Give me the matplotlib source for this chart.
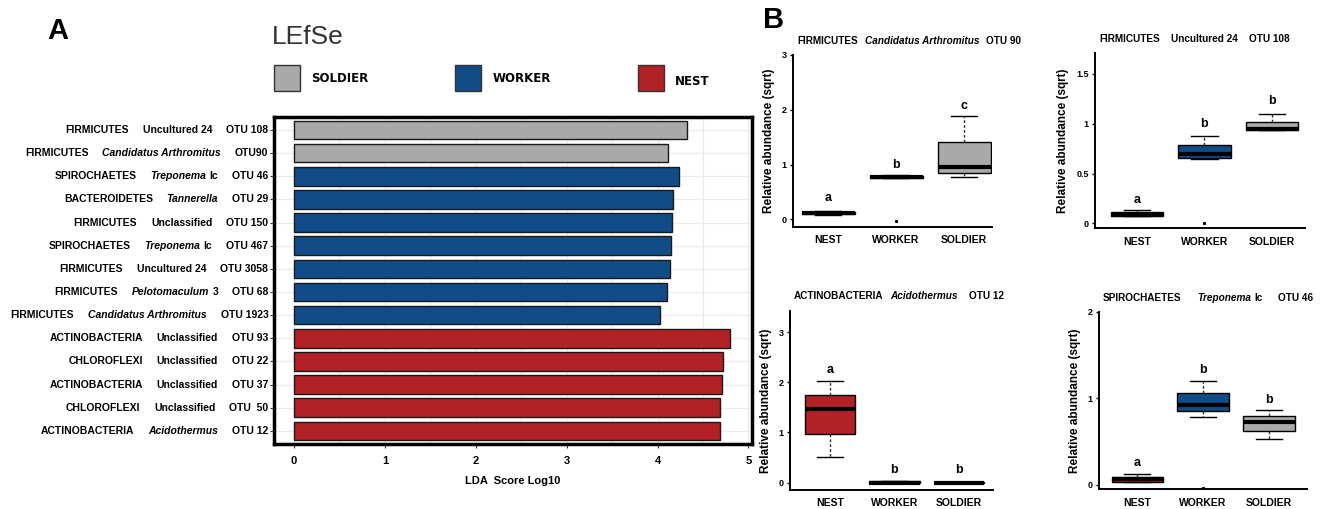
import matplotlib
matplotlib.use("Agg")
import matplotlib.pyplot as plt
from matplotlib.patches import Rectangle
import numpy as np

plt.rcParams['font.family'] = ['Liberation Sans', 'DejaVu Sans']

# ---- panel A data (top row first) ----
phylum = ["FIRMICUTES", "FIRMICUTES", "SPIROCHAETES", "BACTEROIDETES", "FIRMICUTES",
          "SPIROCHAETES", "FIRMICUTES", "FIRMICUTES", "FIRMICUTES", "ACTINOBACTERIA",
          "CHLOROFLEXI", "ACTINOBACTERIA", "CHLOROFLEXI", "ACTINOBACTERIA"]
genus_it = ["", "Candidatus Arthromitus", "Treponema", "Tannerella", "",
            "Treponema", "", "Pelotomaculum", "Candidatus Arthromitus", "",
            "", "", "", "Acidothermus"]
genus_plain = ["Uncultured 24", "", "Ic", "", "Unclassified",
               "Ic", "Uncultured 24", "3", "", "Unclassified",
               "Unclassified", "Unclassified", "Unclassified", ""]
otu = ["OTU 108", "OTU90", "OTU 46", "OTU 29", "OTU 150", "OTU 467", "OTU 3058",
       "OTU 68", "OTU 1923", "OTU 93", "OTU 22", "OTU 37", "OTU  50", "OTU 12"]
lda = [4.32, 4.12, 4.24, 4.17, 4.16, 4.15, 4.14, 4.11, 4.03, 4.80, 4.72, 4.71, 4.69, 4.69]
group = ["SOLDIER", "SOLDIER", "WORKER", "WORKER", "WORKER", "WORKER", "WORKER",
         "WORKER", "WORKER", "NEST", "NEST", "NEST", "NEST", "NEST"]

colors = {"SOLDIER": "#A9A9A9", "WORKER": "#114C88", "NEST": "#B22125"}
legend_order = ["SOLDIER", "WORKER", "NEST"]

# ---- panel B data: box stats per group (NEST, WORKER, SOLDIER) ----
groups_b = ["NEST", "WORKER", "SOLDIER"]
otu90 = [dict(whislo=0.08, q1=0.09, med=0.11, q3=0.13, whishi=0.16, fliers=[]),
         dict(whislo=0.75, q1=0.76, med=0.78, q3=0.80, whishi=0.81, fliers=[-0.03]),
         dict(whislo=0.77, q1=0.85, med=0.96, q3=1.42, whishi=1.89, fliers=[])]
otu90_letters = ["a", "b", "c"]
otu90_letter_y = [0.39, 0.99, 2.07]

otu108 = [dict(whislo=0.07, q1=0.07, med=0.08, q3=0.11, whishi=0.13, fliers=[]),
          dict(whislo=0.65, q1=0.66, med=0.70, q3=0.79, whishi=0.88, fliers=[0.0]),
          dict(whislo=0.94, q1=0.94, med=0.95, q3=1.02, whishi=1.10, fliers=[])]
otu108_letters = ["a", "b", "b"]
otu108_letter_y = [0.23, 1.00, 1.23]

otu12 = [dict(whislo=0.51, q1=0.97, med=1.46, q3=1.74, whishi=2.03, fliers=[]),
         dict(whislo=0.0, q1=0.0, med=0.0, q3=0.02, whishi=0.03, fliers=[]),
         dict(whislo=0.0, q1=0.0, med=0.0, q3=0.01, whishi=0.01, fliers=[])]
otu12_letters = ["a", "b", "b"]
otu12_letter_y = [2.25, 0.25, 0.25]

otu46 = [dict(whislo=0.03, q1=0.03, med=0.07, q3=0.09, whishi=0.13, fliers=[]),
         dict(whislo=0.78, q1=0.85, med=0.92, q3=1.06, whishi=1.20, fliers=[-0.04]),
         dict(whislo=0.53, q1=0.62, med=0.73, q3=0.80, whishi=0.87, fliers=[])]
otu46_letters = ["a", "b", "b"]
otu46_letter_y = [0.25, 1.33, 0.98]


def chain(ax, pieces, xy, xycoords, align, size):
    # pieces: (text, italic, gap in points before the piece), read left to right
    pieces = [p for p in pieces if p[0]]
    if align == "right":
        order = list(range(len(pieces)))[::-1]
    else:
        order = list(range(len(pieces)))
    prev = None
    for j in order:
        txt, it, _ = pieces[j]
        style = "italic" if it else "normal"
        if prev is None:
            prev = ax.annotate(txt, xy=xy, xycoords=xycoords, ha=align, va="center",
                               fontsize=size, fontweight="bold", style=style,
                               annotation_clip=False)
        elif align == "right":
            gap = pieces[j + 1][2]
            prev = ax.annotate(txt, xy=(0, 0.5), xycoords=prev, xytext=(-gap, 0),
                               textcoords="offset points", ha="right", va="center",
                               fontsize=size, fontweight="bold", style=style)
        else:
            gap = pieces[j][2]
            prev = ax.annotate(txt, xy=(1, 0.5), xycoords=prev, xytext=(gap, 0),
                               textcoords="offset points", ha="left", va="center",
                               fontsize=size, fontweight="bold", style=style)


fig = plt.figure(figsize=(13.2, 5.09), dpi=100)

# ---------------- panel A ----------------
axA = fig.add_axes([0.2076, 0.128, 0.3621, 0.642])
ypos = np.arange(len(lda))[::-1]
axA.barh(ypos, lda, height=0.8, color=[colors[g] for g in group],
         edgecolor="#1a1a1a", linewidth=1.0, zorder=3)
axA.set_xlim(-0.22, 5.04)
axA.set_ylim(-0.56, len(lda) - 0.44)
axA.set_xticks(np.arange(0, 6))
axA.set_xticks(np.arange(0.5, 5, 1), minor=True)
axA.set_yticks(ypos)
axA.set_yticklabels([])
axA.grid(True, which="both", axis="x", color="#EBEBEB", lw=0.9, zorder=0)
axA.grid(True, which="major", axis="y", color="#EBEBEB", lw=0.9, zorder=0)
axA.tick_params(axis="both", which="major", length=3, width=0.8, color="#333333")
axA.tick_params(axis="x", which="minor", length=0)
axA.tick_params(axis="x", labelsize=8, pad=6)
for lab in axA.get_xticklabels():
    lab.set_fontweight("bold")
for s in axA.spines.values():
    s.set_linewidth(2.5)
axA.set_xlabel("LDA  Score Log10", fontsize=8, fontweight="bold", labelpad=7)

for i, y in enumerate(ypos):
    pieces = [(phylum[i], False, 0), (genus_it[i], True, 10),
              (genus_plain[i], False, 2.5 if genus_it[i] else 10), (otu[i], False, 10)]
    chain(axA, pieces, (-0.012, y), ("axes fraction", "data"), "right", 7.5)

# title and legend
fig.text(0.206, 0.927, "LEfSe", fontsize=19, color="#333333", va="center")
lx = [0.2075, 0.345, 0.4835]
for g, x in zip(legend_order, lx):
    fig.patches.append(Rectangle((x, 0.822), 0.0197, 0.05, transform=fig.transFigure,
                                 facecolor=colors[g], edgecolor="#333333", lw=1))
    fig.text(x + 0.028, 0.845 if g != "NEST" else 0.84, g, fontsize=8.5,
             fontweight="bold", va="center", family="DejaVu Sans")

fig.text(0.036, 0.94, "A", fontsize=21, fontweight="bold", va="center")
fig.text(0.578, 0.961, "B", fontsize=21, fontweight="bold", va="center")

# ---------------- panel B ----------------
fill_b = [colors[g] for g in groups_b]


def boxpanel(rect, stats, letters, ly, ylim, xlim, yticks, yticklabels, title):
    ax = fig.add_axes(rect)
    bp = ax.bxp(stats, positions=[1, 2, 3], widths=0.78, patch_artist=True,
                showfliers=True,
                boxprops=dict(edgecolor="black", linewidth=1.0),
                medianprops=dict(color="black", linewidth=3.0),
                whiskerprops=dict(color="#333333", linewidth=1.0, linestyle=(0, (2, 1.5))),
                capprops=dict(color="black", linewidth=1.0),
                flierprops=dict(marker="s", markersize=1.2, markerfacecolor="black",
                                markeredgecolor="black"))
    for patch, c in zip(bp["boxes"], fill_b):
        patch.set_facecolor(c)
    for x, (t, yy) in enumerate(zip(letters, ly), start=1):
        ax.text(x, yy, t, ha="center", va="center", fontsize=9, fontweight="bold")
    ax.set_xlim(*xlim)
    ax.set_ylim(*ylim)
    ax.set_xticks([1, 2, 3])
    ax.set_xticklabels(groups_b, fontsize=7.5, fontweight="bold")
    ax.tick_params(axis="x", length=0, pad=6)
    ax.set_yticks(yticks)
    ax.set_yticklabels(yticklabels, fontsize=6.5, fontweight="bold")
    ax.tick_params(axis="y", length=2.5, width=1, pad=2)
    for s in ["top", "right"]:
        ax.spines[s].set_visible(False)
    for s in ["left", "bottom"]:
        ax.spines[s].set_linewidth(1.4)
    ax.set_ylabel("Relative abundance (sqrt)", fontsize=8.5, fontweight="bold", labelpad=5)
    chain(ax, title, (0.02, 1.08), "axes fraction", "left", 7.2)
    return ax


boxpanel([0.6008, 0.554, 0.1507, 0.338], otu90, otu90_letters, otu90_letter_y,
         (-0.14, 3.0), (0.485, 3.41), [0, 1, 2, 3], ["0", "1", "2", "3"],
         [("FIRMICUTES", False, 0), ("Candidatus Arthromitus", True, 5), ("OTU 90", False, 5)])
boxpanel([0.8295, 0.5515, 0.1591, 0.3444], otu108, otu108_letters, otu108_letter_y,
         (-0.05, 1.71), (0.378, 3.49), [0, 0.5, 1, 1.5], ["0", "0.5", "1", "1.5"],
         [("FIRMICUTES", False, 0), ("Uncultured 24", False, 8), ("OTU 108", False, 8)])
boxpanel([0.5985, 0.0373, 0.1538, 0.3523], otu12, otu12_letters, otu12_letter_y,
         (-0.15, 3.43), (0.38, 3.53), [0, 1, 2, 3], ["0", "1", "2", "3"],
         [("ACTINOBACTERIA", False, 0), ("Acidothermus", True, 5), ("OTU 12", False, 8)])
boxpanel([0.8326, 0.0387, 0.1576, 0.3489], otu46, otu46_letters, otu46_letter_y,
         (-0.05, 2.0), (0.42, 3.58), [0, 1, 2], ["0", "1", "2"],
         [("SPIROCHAETES", False, 0), ("Treponema", True, 11), ("Ic", False, 2.5),
          ("OTU 46", False, 11)])

fig.savefig("out.png", dpi=100, facecolor="white")
